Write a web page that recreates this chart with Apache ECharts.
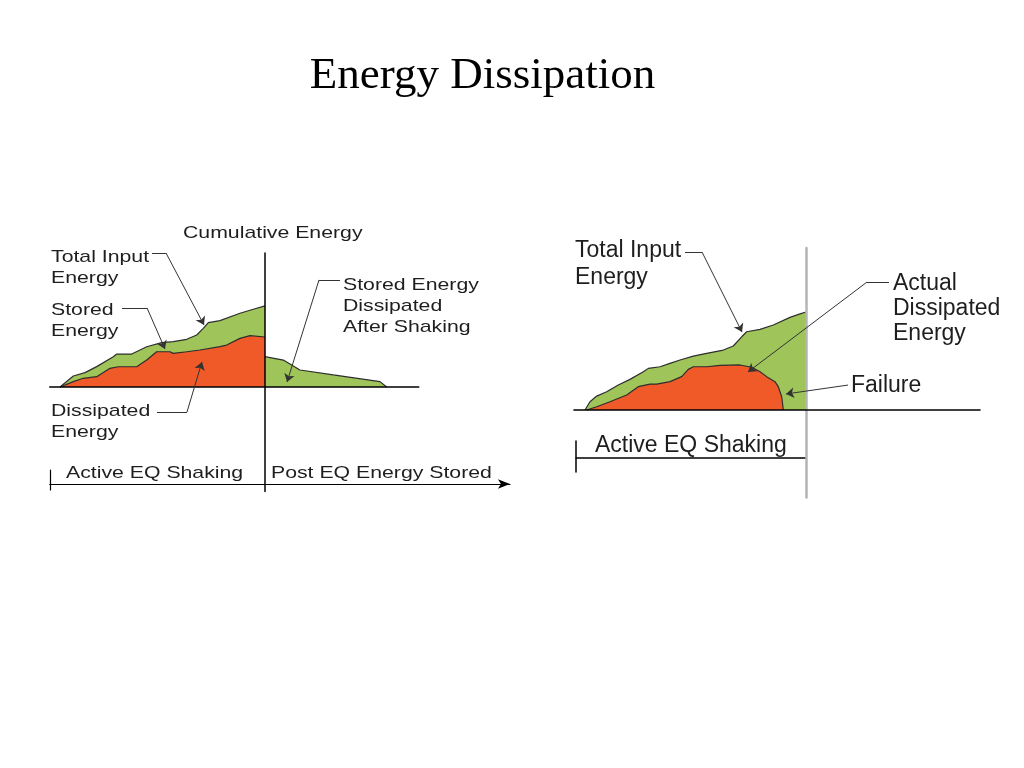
<!DOCTYPE html>
<html>
<head>
<meta charset="utf-8">
<script src="https://cdn.jsdelivr.net/npm/echarts@6/dist/echarts.min.js"></script>
<style>
  html, body { margin: 0; padding: 0; background: #fff; }
  #chart { width: 1024px; height: 768px; }
</style>
</head>
<body>
<div id="chart"></div>
<script>
// left diagram: time (shaking ends at t=0), cumulative energy
const leftTotal = [[-20,0],[-18.7,8.2],[-17.56,10.7],[-16.42,15.2],[-14.8,22.6],[-14.47,24.6],[-13,24.6],
  [-11.54,30],[-10.08,33.1],[-8.95,33.8],[-7.64,35.6],[-6.66,38.8],[-6.02,43.8],[-5.53,48],[-4.39,49.5],
  [-2.44,55],[-1.14,58],[0,60.5]];
const leftDissipated = [[-20,0],[-18.7,4],[-17.73,6.5],[-16.42,7.7],[-15.12,13.9],[-14.31,15.1],[-12.52,15.1],
  [-11.54,20.1],[-10.57,26.3],[-9.27,26.3],[-8.95,25.1],[-7.64,26.3],[-6.34,27.6],[-4.39,30.1],[-3.74,31.3],
  [-2.44,36.3],[-1.46,38.3],[0,37.3]];
const leftPostStored = [[0,22.6],[1.79,20.1],[3.41,12.7],[6.66,9],[11.22,4],[11.87,0]];

// right diagram: failure at t=0
const rightTotal = [[-20,0],[-19.55,5.1],[-18.94,8.6],[-18.04,11.3],[-16.99,15.4],[-15.93,18.9],[-14.72,23.6],
  [-14.27,25.7],[-13.21,26.7],[-12.31,28.8],[-11.4,30.9],[-10.2,33.3],[-8.99,35],[-7.48,37],[-6.58,39.5],
  [-5.82,45.2],[-5.37,48.3],[-4.16,49.8],[-2.96,52.5],[-1.45,57.2],[-0.54,59.3],[0,60.5]];
const rightDissipated = [[-19.85,0],[-18.94,2],[-17.74,5.1],[-16.23,9.3],[-15.18,14.4],[-14.12,16],[-13.51,16],
  [-12.31,17.5],[-11.25,20.6],[-10.65,25.1],[-10.2,26.7],[-8.99,26.7],[-7.78,27.6],[-5.97,27.8],[-4.91,26.4],
  [-4.16,23.6],[-3.56,20.6],[-2.81,17.5],[-2.51,14.4],[-2.2,8.2],[-2.05,0]];

// leader lines (data units of each diagram), last point = arrow tip
const leftLeaders = [
  [[-11.02,100],[-9.66,100],[-5.95,46.3]],
  [[-13.95,59],[-11.51,59],[-9.76,28.4]],
  [[-10.54,-18.7],[-7.61,-18.7],[-6.15,18.7]],
  [[7.32,79.9],[5.27,79.9],[2.15,3.7]]
];
const rightLeaders = [
  [[-10.95,97.5],[-9.41,97.5],[-5.79,48.1]],
  [[7.51,79],[5.52,79],[-5.25,23.5]],
  [[3.8,15.4],[-1.81,9.9]]
];

const GREEN = '#9fc45a';
const RED = '#f05a29';
const OUTLINE = '#2e2e2e';

const hidden = { axisTick: {show: false}, axisLabel: {show: false}, splitLine: {show: false} };

function areaSeries(data, color, idx) {
  return {
    type: 'line', xAxisIndex: idx, yAxisIndex: idx, data: data,
    symbol: 'none', showSymbol: false,
    lineStyle: {color: OUTLINE, width: 1.2},
    areaStyle: {color: color, opacity: 1},
    z: 2
  };
}
// each leader = plain segments + one final segment ending in an arrow
function leaderSeries(list, idx, arrow) {
  const segs = [];
  list.forEach(pts => {
    for (let i = 0; i < pts.length - 1; i++) {
      const last = i === pts.length - 2;
      if (last === arrow) segs.push({coords: [pts[i], pts[i + 1]]});
    }
  });
  return {
    type: 'lines', coordinateSystem: 'cartesian2d', xAxisIndex: idx, yAxisIndex: idx,
    clip: false, silent: true,
    symbol: arrow ? ['none', 'arrow'] : 'none', symbolSize: 8,
    lineStyle: {color: '#333', width: 1, opacity: 1},
    itemStyle: {color: '#222'},
    data: segs,
    z: 5
  };
}
function txt(x, y, text, size, lh, sx) {
  return {
    type: 'text', x: x, y: y, scaleX: sx || 1, z: 10,
    style: {
      text: text, fill: '#1e1e1e', fontFamily: '"Liberation Sans", Arial, sans-serif',
      fontSize: size, lineHeight: lh, verticalAlign: 'top', textAlign: 'left'
    }
  };
}

const chart = echarts.init(document.getElementById('chart'));
chart.setOption({
  animation: false,
  backgroundColor: '#fff',
  grid: [
    {left: 49.75, top: 253, width: 369, height: 238.5},
    {left: 49.75, top: 470, width: 460.2, height: 20},
    {left: 573.95, top: 248, width: 406.1, height: 249.5},
    {left: 576.2, top: 441, width: 229.8, height: 31}
  ],
  xAxis: [
    Object.assign({type: 'value', gridIndex: 0, min: -21, max: 15, z: 4,
      axisLine: {show: true, onZero: true, lineStyle: {color: '#000', width: 1.5}}}, hidden),
    Object.assign({type: 'value', gridIndex: 1, min: -21, max: 23.9,
      axisLine: {show: true, onZero: true, symbol: ['none', 'arrow'], symbolSize: [7, 12],
        lineStyle: {color: '#000', width: 1.2}}}, hidden),
    Object.assign({type: 'value', gridIndex: 2, min: -21, max: 15.75, z: 4,
      axisLine: {show: true, onZero: true, lineStyle: {color: '#000', width: 1.5}}}, hidden),
    Object.assign({type: 'value', gridIndex: 3, min: -20.8, max: 0,
      axisLine: {show: true, onZero: true, lineStyle: {color: '#000', width: 1.5}}}, hidden)
  ],
  yAxis: [
    Object.assign({type: 'value', gridIndex: 0, min: -78, max: 100, z: 4,
      axisLine: {show: true, onZero: true, lineStyle: {color: '#000', width: 1.5}}}, hidden),
    Object.assign({type: 'value', gridIndex: 1, min: -6, max: 14,
      axisLine: {show: true, onZero: false, lineStyle: {color: '#000', width: 1.2}}}, hidden),
    Object.assign({type: 'value', gridIndex: 2, min: -54, max: 100, z: 4,
      axisLine: {show: true, onZero: true, lineStyle: {color: '#b4b4b4', width: 2.5}}}, hidden),
    Object.assign({type: 'value', gridIndex: 3, min: -14, max: 17,
      axisLine: {show: true, onZero: false, lineStyle: {color: '#000', width: 1.5}}}, hidden)
  ],
  series: [
    areaSeries(leftTotal, GREEN, 0),
    areaSeries(leftDissipated, RED, 0),
    areaSeries(leftPostStored, GREEN, 0),
    areaSeries(rightTotal, GREEN, 2),
    areaSeries(rightDissipated, RED, 2),
    leaderSeries(leftLeaders, 0, false),
    leaderSeries(leftLeaders, 0, true),
    leaderSeries(rightLeaders, 2, false),
    leaderSeries(rightLeaders, 2, true)
  ],
  graphic: [
    {type: 'text', x: 482.5, y: 54, z: 10, style: {text: 'Energy Dissipation', fill: '#000',
      fontFamily: '"Liberation Serif", "Times New Roman", serif', fontSize: 45, lineHeight: 45,
      textAlign: 'center', verticalAlign: 'top'}},
    txt(183, 222.4, 'Cumulative Energy', 17, 21, 1.25),
    txt(51, 246.4, 'Total Input\nEnergy', 17, 21, 1.25),
    txt(51, 299.4, 'Stored\nEnergy', 17, 21, 1.25),
    txt(51, 400.4, 'Dissipated\nEnergy', 17, 21, 1.25),
    txt(343, 274.4, 'Stored Energy\nDissipated\nAfter Shaking', 17, 21, 1.25),
    txt(66, 463, 'Active EQ Shaking', 17, 21, 1.25),
    txt(271, 463, 'Post EQ Energy Stored', 17, 21, 1.25),
    txt(575, 237.6, 'Total Input\nEnergy', 23, 27, 1),
    txt(893, 271.6, 'Actual\nDissipated\nEnergy', 23, 25, 1),
    txt(851, 374.6, 'Failure', 23, 23, 1),
    txt(595, 434.6, 'Active EQ Shaking', 23, 23, 1)
  ]
});
</script>
</body>
</html>
